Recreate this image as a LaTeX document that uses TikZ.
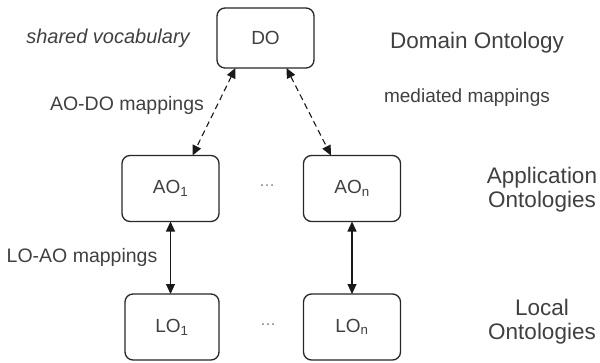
\documentclass[tikz,border=0pt]{standalone}
\usepackage{fontspec}
\setmainfont{Liberation Sans}
\usetikzlibrary{arrows.meta}

\begin{document}
\begin{tikzpicture}[x=1pt,y=-1pt,
	box/.style={draw=black!85,line width=1.3pt,rounded corners=8pt,inner sep=0pt,outer sep=0pt,minimum width=97pt,minimum height=66pt,font=\fontsize{19}{23}\selectfont,text=black!75},
	lbl/.style={font=\fontsize{19.5}{24}\selectfont,text=black!75,align=center},
	big/.style={font=\fontsize{22.5}{24}\selectfont,text=black!75,align=center},
	dots/.style={font=\fontsize{16}{20}\selectfont,text=black!50},
	map/.style={line width=1.1pt,draw=black!90,{Triangle[length=10pt,width=9pt]}-{Triangle[length=10pt,width=9pt]}}]
	\useasboundingbox (0,0) rectangle (600,362);
	\node[box,minimum height=60pt] (do) at (265.5,38) {DO};
	\node[box] (ao1) at (170.5,188.5) {AO\textsubscript{1}};
	\node[box] (aon) at (352,188.5) {AO\textsubscript{n}};
	\node[box,minimum width=94pt] (lo1) at (172,327) {LO\textsubscript{1}};
	\node[box] (lon) at (352,327) {LO\textsubscript{n}};
	\node[dots] (dotsao) at (267,186) {\dots};
	\node[dots] (dotslo) at (268,325) {\dots};
	% mappings
	\draw[map,dash pattern=on 6pt off 4pt] ([xshift=-30pt]do.south) -- ([xshift=22pt]ao1.north);
	\draw[map,dash pattern=on 6pt off 4pt] ([xshift=21pt]do.south) -- ([xshift=-21pt]aon.north);
	\draw[map] (ao1.south) -- (ao1.south |- lo1.north);
	\draw[map] (aon.south) -- (lon.north);
	% labels
	\node[lbl,font=\fontsize{20}{24}\selectfont\itshape] (shared) at (108,38) {shared vocabulary};
	\node[big] (domain) at (477,43) {Domain Ontology};
	\node[lbl,font=\fontsize{19}{24}\selectfont] (mediated) at (467,98) {mediated mappings};
	\node[lbl] (aodo) at (127,105) {AO-DO mappings};
	\node[big] (appl) at (542,190) {Application\\Ontologies};
	\node[big] (local) at (542,322) {Local\\Ontologies};
	\node[lbl] (loao) at (82,257) {LO-AO mappings};
\end{tikzpicture}
\end{document}
